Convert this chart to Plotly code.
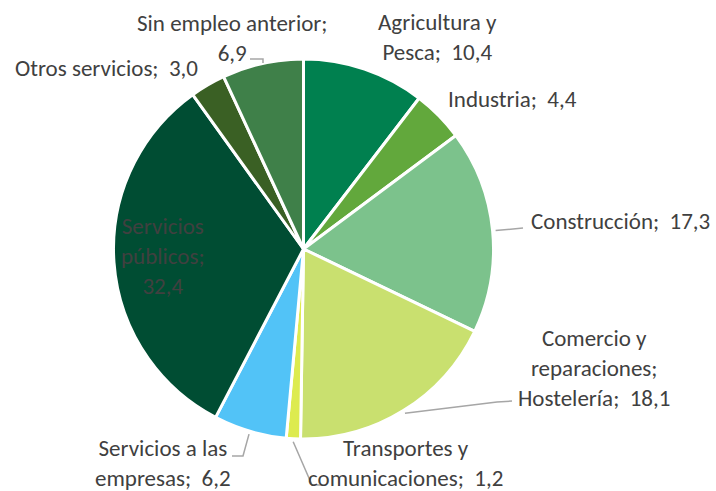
import math
import plotly.graph_objects as go

# datos
sectores = ["Agricultura y Pesca", "Industria", "Construcción",
            "Comercio y reparaciones; Hostelería", "Transportes y comunicaciones",
            "Servicios a las empresas", "Servicios públicos", "Otros servicios",
            "Sin empleo anterior"]
valores = [10.4, 4.4, 17.3, 18.1, 1.2, 6.2, 32.4, 3.0, 6.9]
etiquetas = ["Agricultura y<br>Pesca;", "Industria;", "Construcción;",
             "Comercio y<br>reparaciones;<br>Hostelería;", "Transportes y<br>comunicaciones;",
             "Servicios a las<br>empresas;", "Servicios<br>públicos;<br>", "Otros servicios;",
             "Sin empleo anterior;<br>"]
colores = ["#00804F", "#62A83C", "#7CC28C", "#C9E06F", "#DDEB4F",
           "#52C3F7", "#004D33", "#3A6024", "#3F8049"]

W, H = 716, 491
cx, cy, R = 303.5, 249, 190

def px(x):
    return x / W

def py(y):
    return 1 - y / H

def fmt(v):
    return ("%.1f" % v).replace(".", ",")

total = sum(valores)

def punto_medio(i, r):
    f = (sum(valores[:i]) + valores[i] / 2) / total
    a = math.radians(90 - 360 * f)
    return cx + r * math.cos(a), cy - r * math.sin(a)

fig = go.Figure(go.Pie(
    labels=sectores, values=valores, sort=False, direction="clockwise", rotation=0,
    marker=dict(colors=colores, line=dict(color="white", width=3)),
    textinfo="none", hoverinfo="label+value", showlegend=False,
    domain=dict(x=[px(cx - R), px(cx + R)], y=[py(cy + R), py(cy - R)]),
))

# posicion del texto (pixeles) para cada etiqueta
pos_texto = [(437, 37), (512, 99), (620, 221), (594, 368), (405, 463),
             (163, 463), (163, 256), (106, 68), (232, 38)]

fuente = dict(family="Carlito, Lato, sans-serif", size=23, color="#404040")
anns = []
for i, (x, y) in enumerate(pos_texto):
    sep_val = "" if etiquetas[i].endswith("<br>") else "  "
    anns.append(dict(
        x=px(x), y=py(y), xref="paper", yref="paper", showarrow=False,
        text=etiquetas[i] + sep_val + fmt(valores[i]), align="center",
        xanchor="center", yanchor="middle", font=fuente,
    ))

# lineas guia
guias = {
    2: [(523, 228)],
    3: [(497, 402), (512, 401)],
    4: [(312, 485), (322, 485)],
    5: [(243, 456), (232, 456)],
}
shapes = []
for i, pts in guias.items():
    x0, y0 = punto_medio(i, R + 3)
    path = "M %f %f" % (px(x0), py(y0))
    for x, y in pts:
        path += " L %f %f" % (px(x), py(y))
    shapes.append(dict(type="path", xref="paper", yref="paper", path=path,
                       line=dict(color="#A6A6A6", width=1.5)))
shapes.append(dict(type="path", xref="paper", yref="paper",
                   path="M %f %f L %f %f L %f %f" % (px(250), py(59), px(263), py(59), px(263), py(63)),
                   line=dict(color="#A6A6A6", width=1.5)))

fig.update_layout(
    width=W, height=H, margin=dict(l=0, r=0, t=0, b=0),
    paper_bgcolor="white", plot_bgcolor="white",
    annotations=anns, shapes=shapes,
)

fig.write_html("out.html", config={"displayModeBar": False},
               post_script="document.body.style.margin='0';")
